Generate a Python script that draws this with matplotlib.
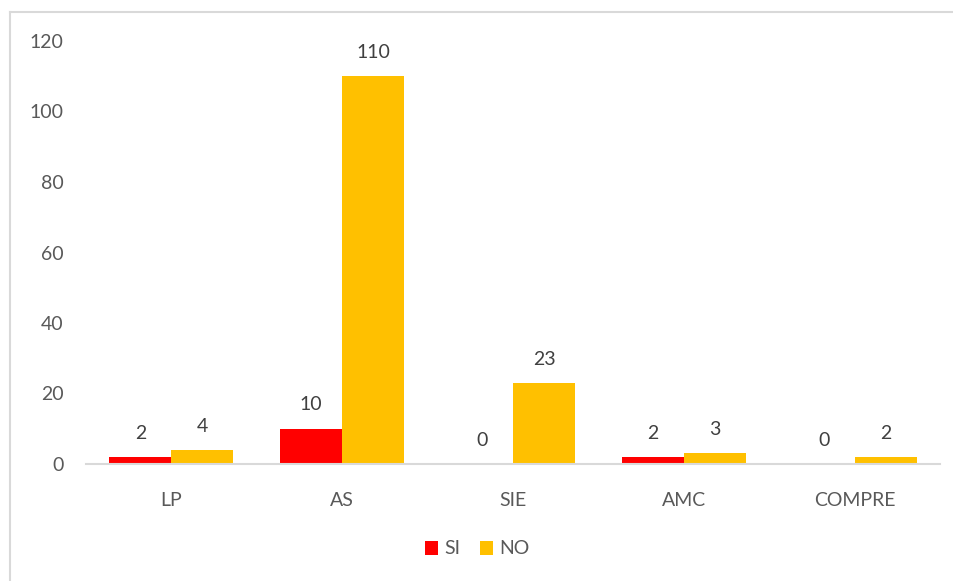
import matplotlib.pyplot as plt
from matplotlib.lines import Line2D
import numpy as np

categories = ['LP', 'AS', 'SIE', 'AMC', 'COMPRE']
si = [2, 10, 0, 2, 0]
no = [4, 110, 23, 3, 2]

plt.rcParams['font.family'] = ['Lato', 'DejaVu Sans']

fig = plt.figure(figsize=(9.54, 5.81), dpi=100)
W, H = 954, 581
ax = fig.add_axes([86 / W, 1 - 464 / H, 854 / W, (464 - 41) / H])

x = np.arange(len(categories))
w = 0.363
b1 = ax.bar(x - w / 2, si, w, color='#ff0000', label='SI')
b2 = ax.bar(x + w / 2, no, w, color='#ffc000', label='NO')
ax.bar_label(b1, padding=11, fontsize=14, color='#404040')
ax.bar_label(b2, padding=11, fontsize=14, color='#404040')

ax.set_xlim(-0.5, len(categories) - 0.5)
ax.set_ylim(0, 120)
ax.set_yticks(range(0, 121, 20))
ax.set_xticks(x)
ax.set_xticklabels(categories)
ax.tick_params(axis='both', length=0, labelsize=14, colors='#595959')
ax.tick_params(axis='x', pad=20)
ax.tick_params(axis='y', pad=16)

for s in ['top', 'right', 'left']:
    ax.spines[s].set_visible(False)
ax.spines['bottom'].set_color('#d9d9d9')
ax.spines['bottom'].set_linewidth(1.5)

fig.legend(loc='center', bbox_to_anchor=(0.5, 1 - 549 / H), ncol=2, frameon=False,
           fontsize=14, handlelength=0.7, handleheight=0.7, handletextpad=0.3,
           columnspacing=1.0, labelcolor='#595959')

# chart frame (only top and left edges visible)
fig.add_artist(Line2D([10 / W, 1], [1 - 11.5 / H] * 2, color='#d9d9d9', lw=1.5))
fig.add_artist(Line2D([10 / W] * 2, [0, 1 - 11.5 / H], color='#d9d9d9', lw=1.5))

fig.savefig('out.png', dpi=100)
